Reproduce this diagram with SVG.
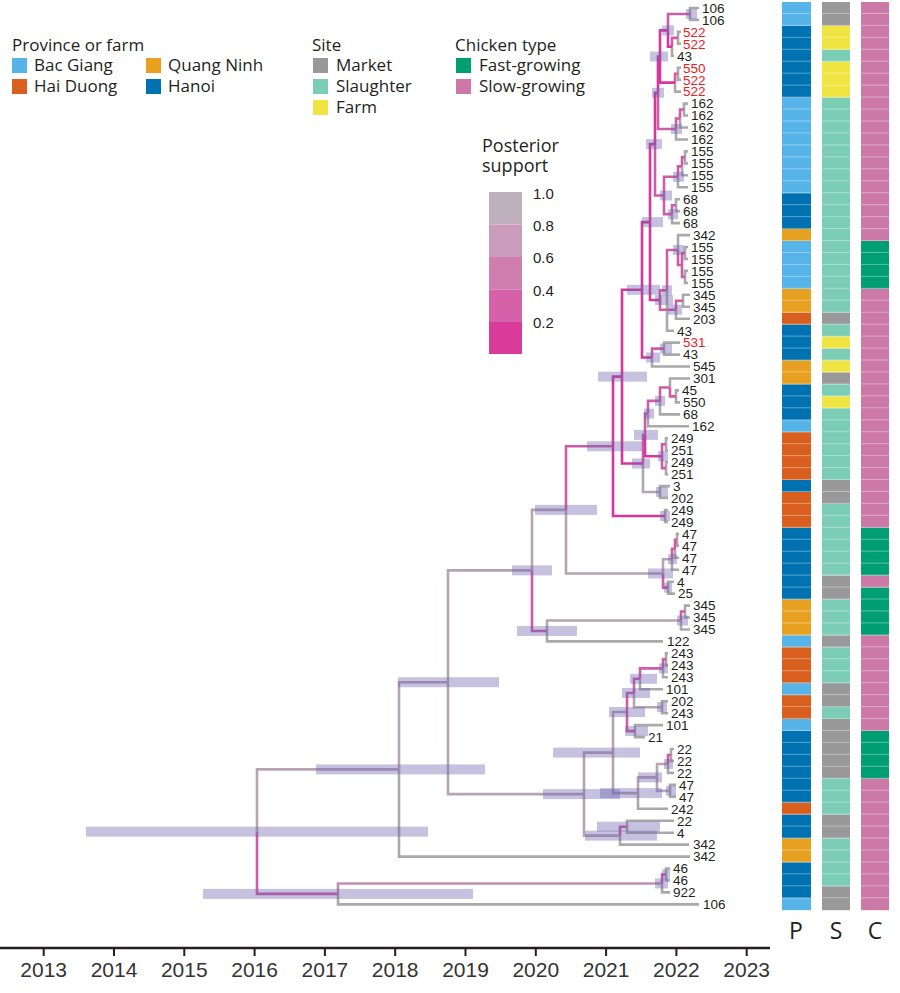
<svg xmlns="http://www.w3.org/2000/svg" width="900" height="993" viewBox="0 0 900 993">
<defs>
<style>
.t{fill:none;stroke:#A9A9A9;stroke-width:2.6}
.s1{fill:none;stroke:#B7A4B3;stroke-width:2.6}
.s8{fill:none;stroke:#C08FAF;stroke-width:2.6}
.s4{fill:none;stroke:#CF5CA6;stroke-width:2.6}
.s2{fill:none;stroke:#D8369A;stroke-width:2.6}
.hpd rect{fill:#6E65AE;fill-opacity:0.4}
.lbl{font-family:"Liberation Sans",Arial,sans-serif;font-size:13.5px;fill:#231F20}
.red{fill:#E8201F}
.leg{font-family:"Open Sans","Liberation Sans",sans-serif;font-size:17px;fill:#231F20}
.ax{font-family:"Liberation Sans",Arial,sans-serif;font-size:21px;fill:#333;text-anchor:middle}
.bg{fill:#56B4E9}.hd{fill:#D95F1E}.qn{fill:#E8A020}.hn{fill:#0072B2}
.mk{fill:#999999}.sl{fill:#7BCDB6}.fm{fill:#F0E442}
.fa{fill:#009E73}.sw{fill:#CC79A7}
</style>
<pattern id="sep" x="0" y="2" width="40" height="11.95" patternUnits="userSpaceOnUse">
<rect x="0" y="11.3" width="40" height="1.1" fill="#ffffff" fill-opacity="0.55"/>
</pattern>
</defs>
<rect width="900" height="993" fill="#ffffff"/>

<g id="connectors">
<path class="t" d="M690,13.95V8H699M690,13.95V19.9H699M678,37.85V31.9H681M678,37.85V43.8H681M672,46.8V55.8H674M678,73.7V67.7H681M678,73.7V79.7H681M675,82.65V91.6H681M684,109.55V103.6H688M684,109.55V115.5H688M680,118.5V127.5H688M676,129V139.5H688M685,157.4V151.4H688M685,157.4V163.4H688M682,166.35V175.3H688M678,176.8V187.3H688M676,205.2V199.2H680M676,205.2V211.2H680M672,214.15V223.1H680M678,250V235.1H690M685,253V247H688M685,253V259H688M685,276.9V270.9H688M685,276.9V282.9H688M667,290.35V330.7H674M683,300.8V294.8H690M683,300.8V306.8H690M676,309.75V318.7H690M664,348.6V342.6H680M664,348.6V354.6H680M652,357.55V366.5H690M676,396.4V390.4H679M676,396.4V402.4H680M670,387.45V378.5H690M660,400.9V414.4H680M648,413.6V426.3H689M666,444.25V438.3H668M666,444.25V450.2H668M666,468.15V462.2H668M666,468.15V474.1H668M660,492.05V486.1H670M660,492.05V498H668M665,515.95V510H668M665,515.95V521.9H668M677,539.85V533.9H679M677,539.85V545.8H679M675,548.8V557.8H679M672,559.25V569.7H679M668,587.65V581.7H674M668,587.65V593.6H675M685,611.55V605.6H690M685,611.55V617.5H690M681,620.5V629.5H690M547,630.95V641.4H663M666,659.4V653.4H668M666,659.4V665.4H668M663,668.35V677.3H668M640,678.8V689.3H663M662,707.2V701.2H668M662,707.2V713.2H668M635,731.1V725.1H663M635,731.1V737.1H645M671,755V749H674M671,755V761H674M668,763.95V772.9H674M670,790.85V784.9H676M670,790.85V796.8H676M638,793.1V808.8H668M627,826.7V820.7H674M627,826.7V832.7H674M620,835.65V844.6H689M399,769.4V856.6H690M666,874.5V868.5H670M666,874.5V880.5H670M662,883.45V892.4H670M338,893.9V904.4H699"/>
<path class="s1" d="M257,831.65V769.4H399M399,769.4V682.25H448M448,682.25V570.4H532M448,682.25V794.1H584M532,570.4V509.9H566M566,509.9V573.45H663M547,630.95V620.5H681M584,794.1V752.6H613M584,794.1V835.65H620M613,752.6V712.05H627M613,752.6V793.1H638M638,793.1V777.4H657M657,777.4V763.95H668M657,777.4V790.85H670M634,693V707.2H662M643,463.5V492.05H660M663,573.45V559.25H672"/>
<path class="s8" d="M338,893.9V883.45H662"/>
<path class="s4" d="M257,831.65V893.9H338M532,570.4V630.95H547M566,509.9V446.3H613M662,883.45V874.5H666M681,620.5V611.55H685M663,573.45V587.65H668M672,559.25V548.8H675M675,548.8V539.85H677M643,463.5V434.9H645M645,434.9V413.6H648M648,413.6V400.9H660M660,400.9V387.45H670M670,387.45V396.4H676M662,456.2V444.25H666M662,456.2V468.15H666M652,357.55V348.6H664M660,300.05V309.75H676M676,309.75V300.8H683M660,300.05V290.35H667M667,290.35V250H678M678,250V264.95H682M682,264.95V253H685M682,264.95V276.9H685M655,144.1V195.5H664M664,195.5V176.8H678M678,176.8V166.35H682M682,166.35V157.4H685M664,195.5V214.15H672M672,214.15V205.2H676M658,92.75V129H676M676,129V118.5H680M680,118.5V109.55H684M668,30.4V13.95H690M672,46.8V37.85H678M675,82.65V73.7H678M627,712.05V693H634M627,712.05V731.1H635M634,693V678.8H640M640,678.8V668.35H663M663,668.35V659.4H666M668,763.95V755H671M620,835.65V826.7H627"/>
<path class="s2" d="M613,446.3V376.65H622M613,446.3V515.95H665M622,376.65V289.8H642M622,376.65V463.5H643M645,434.9V456.2H662M642,289.8V222.1H650M642,289.8V357.55H652M650,222.1V144.1H655M650,222.1V300.05H660M655,144.1V92.75H658M658,92.75V56.5H660M660,56.5V30.4H668M660,56.5V82.65H675M668,30.4V46.8H672"/>
</g>

<g id="hpd" class="hpd">
<rect x="86" y="826.65" width="342" height="10"/>
<rect x="203" y="888.9" width="270" height="10"/>
<rect x="316" y="764.4" width="169" height="10"/>
<rect x="398" y="677.25" width="101" height="10"/>
<rect x="512" y="565.4" width="40" height="10"/>
<rect x="535" y="504.9" width="62" height="10"/>
<rect x="517" y="625.95" width="60" height="10"/>
<rect x="587" y="441.3" width="55" height="10"/>
<rect x="598" y="371.65" width="49" height="10"/>
<rect x="634" y="429.9" width="24" height="10"/>
<rect x="632" y="458.5" width="18" height="10"/>
<rect x="627" y="284.8" width="33" height="10"/>
<rect x="642" y="217.1" width="21" height="10"/>
<rect x="646" y="139.1" width="16" height="10"/>
<rect x="655" y="295.05" width="18" height="10"/>
<rect x="648" y="568.45" width="25" height="10"/>
<rect x="543" y="789.1" width="77" height="10"/>
<rect x="553" y="747.6" width="87" height="10"/>
<rect x="600" y="788.1" width="62" height="10"/>
<rect x="585" y="830.65" width="72" height="10"/>
<rect x="597" y="821.7" width="63" height="10"/>
<rect x="609" y="707.05" width="36" height="10"/>
<rect x="622" y="688" width="28" height="10"/>
<rect x="630" y="673.8" width="27" height="10"/>
<rect x="625" y="726.1" width="23" height="10"/>
<rect x="638" y="772.4" width="24" height="10"/>
<rect x="655" y="878.45" width="13" height="10"/>
<rect x="677" y="615.5" width="11" height="10"/>
<rect x="650" y="51.5" width="18" height="10"/>
<rect x="662" y="25.4" width="12" height="10"/>
<rect x="686" y="8.95" width="11" height="10"/>
<rect x="652" y="87.75" width="12" height="10"/>
<rect x="671" y="124" width="11" height="10"/>
<rect x="660" y="190.5" width="12" height="10"/>
<rect x="673" y="171.8" width="11" height="10"/>
<rect x="668" y="209.15" width="10" height="10"/>
<rect x="673" y="245" width="11" height="10"/>
<rect x="662" y="285.35" width="10" height="10"/>
<rect x="668" y="304.75" width="14" height="10"/>
<rect x="646" y="352.55" width="14" height="10"/>
<rect x="660" y="343.6" width="12" height="10"/>
<rect x="644" y="408.6" width="10" height="10"/>
<rect x="655" y="395.9" width="10" height="10"/>
<rect x="658" y="451.2" width="10" height="10"/>
<rect x="656" y="487.05" width="12" height="10"/>
<rect x="660" y="510.95" width="10" height="10"/>
<rect x="668" y="554.25" width="9" height="10"/>
<rect x="664" y="582.65" width="8" height="10"/>
<rect x="659" y="663.35" width="9" height="10"/>
<rect x="657" y="702.2" width="10" height="10"/>
<rect x="664" y="758.95" width="9" height="10"/>
<rect x="666" y="785.85" width="10" height="10"/>
<rect x="662" y="869.5" width="8" height="10"/>
</g>

<g id="tips" class="lbl">
<text x="702" y="12.8">106</text>
<text x="702" y="24.7">106</text>
<text x="683" y="36.7" class="lbl red">522</text>
<text x="683" y="48.6" class="lbl red">522</text>
<text x="677" y="60.6">43</text>
<text x="683" y="72.5" class="lbl red">550</text>
<text x="683" y="84.5" class="lbl red">522</text>
<text x="683" y="96.4" class="lbl red">522</text>
<text x="691" y="108.4">162</text>
<text x="691" y="120.3">162</text>
<text x="691" y="132.3">162</text>
<text x="691" y="144.3">162</text>
<text x="691" y="156.2">155</text>
<text x="691" y="168.2">155</text>
<text x="691" y="180.1">155</text>
<text x="691" y="192.1">155</text>
<text x="683" y="204">68</text>
<text x="683" y="216">68</text>
<text x="683" y="227.9">68</text>
<text x="693" y="239.9">342</text>
<text x="691" y="251.8">155</text>
<text x="691" y="263.8">155</text>
<text x="691" y="275.7">155</text>
<text x="691" y="287.7">155</text>
<text x="693" y="299.6">345</text>
<text x="693" y="311.6">345</text>
<text x="693" y="323.5">203</text>
<text x="677" y="335.5">43</text>
<text x="683" y="347.4" class="lbl red">531</text>
<text x="683" y="359.4">43</text>
<text x="693" y="371.3">545</text>
<text x="693" y="383.3">301</text>
<text x="682" y="395.2">45</text>
<text x="683" y="407.2">550</text>
<text x="683" y="419.2">68</text>
<text x="692" y="431.1">162</text>
<text x="671" y="443.1">249</text>
<text x="671" y="455">251</text>
<text x="671" y="467">249</text>
<text x="671" y="478.9">251</text>
<text x="673" y="490.9">3</text>
<text x="671" y="502.8">202</text>
<text x="671" y="514.8">249</text>
<text x="671" y="526.7">249</text>
<text x="682" y="538.7">47</text>
<text x="682" y="550.6">47</text>
<text x="682" y="562.6">47</text>
<text x="682" y="574.5">47</text>
<text x="677" y="586.5">4</text>
<text x="678" y="598.4">25</text>
<text x="693" y="610.4">345</text>
<text x="693" y="622.3">345</text>
<text x="693" y="634.3">345</text>
<text x="667" y="646.2">122</text>
<text x="671" y="658.2">243</text>
<text x="671" y="670.2">243</text>
<text x="671" y="682.1">243</text>
<text x="666" y="694.1">101</text>
<text x="671" y="706">202</text>
<text x="671" y="718">243</text>
<text x="666" y="729.9">101</text>
<text x="648" y="741.9">21</text>
<text x="677" y="753.8">22</text>
<text x="677" y="765.8">22</text>
<text x="677" y="777.7">22</text>
<text x="679" y="789.7">47</text>
<text x="679" y="801.6">47</text>
<text x="671" y="813.6">242</text>
<text x="677" y="825.5">22</text>
<text x="677" y="837.5">4</text>
<text x="693" y="849.4">342</text>
<text x="693" y="861.4">342</text>
<text x="673" y="873.3">46</text>
<text x="673" y="885.3">46</text>
<text x="673" y="897.2">922</text>
<text x="703" y="909.2">106</text>
</g>

<g id="col-P">
<rect class="bg" x="782" y="2" width="29" height="23.9"/>
<rect class="hn" x="782" y="25.9" width="29" height="71.7"/>
<rect class="bg" x="782" y="97.6" width="29" height="95.6"/>
<rect class="hn" x="782" y="193.2" width="29" height="35.85"/>
<rect class="qn" x="782" y="229.05" width="29" height="11.95"/>
<rect class="bg" x="782" y="241" width="29" height="47.8"/>
<rect class="qn" x="782" y="288.8" width="29" height="23.9"/>
<rect class="hd" x="782" y="312.7" width="29" height="11.95"/>
<rect class="hn" x="782" y="324.65" width="29" height="35.85"/>
<rect class="qn" x="782" y="360.5" width="29" height="23.9"/>
<rect class="hn" x="782" y="384.4" width="29" height="35.85"/>
<rect class="bg" x="782" y="420.25" width="29" height="11.95"/>
<rect class="hd" x="782" y="432.2" width="29" height="47.8"/>
<rect class="hn" x="782" y="480" width="29" height="11.95"/>
<rect class="hd" x="782" y="491.95" width="29" height="35.85"/>
<rect class="hn" x="782" y="527.8" width="29" height="71.7"/>
<rect class="qn" x="782" y="599.5" width="29" height="35.85"/>
<rect class="bg" x="782" y="635.35" width="29" height="11.95"/>
<rect class="hd" x="782" y="647.3" width="29" height="35.85"/>
<rect class="bg" x="782" y="683.15" width="29" height="11.95"/>
<rect class="hd" x="782" y="695.1" width="29" height="23.9"/>
<rect class="bg" x="782" y="719" width="29" height="11.95"/>
<rect class="hn" x="782" y="730.95" width="29" height="71.7"/>
<rect class="hd" x="782" y="802.65" width="29" height="11.95"/>
<rect class="hn" x="782" y="814.6" width="29" height="23.9"/>
<rect class="qn" x="782" y="838.5" width="29" height="23.9"/>
<rect class="hn" x="782" y="862.4" width="29" height="35.85"/>
<rect class="bg" x="782" y="898.25" width="29" height="11.95"/>
<rect x="782" y="2" width="29" height="907" fill="url(#sep)"/>
</g>

<g id="col-S">
<rect class="mk" x="822" y="2" width="28" height="23.9"/>
<rect class="fm" x="822" y="25.9" width="28" height="23.9"/>
<rect class="sl" x="822" y="49.8" width="28" height="11.95"/>
<rect class="fm" x="822" y="61.75" width="28" height="35.85"/>
<rect class="sl" x="822" y="97.6" width="28" height="215.1"/>
<rect class="mk" x="822" y="312.7" width="28" height="11.95"/>
<rect class="sl" x="822" y="324.65" width="28" height="11.95"/>
<rect class="fm" x="822" y="336.6" width="28" height="11.95"/>
<rect class="sl" x="822" y="348.55" width="28" height="11.95"/>
<rect class="fm" x="822" y="360.5" width="28" height="11.95"/>
<rect class="mk" x="822" y="372.45" width="28" height="11.95"/>
<rect class="sl" x="822" y="384.4" width="28" height="11.95"/>
<rect class="fm" x="822" y="396.35" width="28" height="11.95"/>
<rect class="sl" x="822" y="408.3" width="28" height="71.7"/>
<rect class="mk" x="822" y="480" width="28" height="23.9"/>
<rect class="sl" x="822" y="503.9" width="28" height="71.7"/>
<rect class="mk" x="822" y="575.6" width="28" height="23.9"/>
<rect class="sl" x="822" y="599.5" width="28" height="35.85"/>
<rect class="mk" x="822" y="635.35" width="28" height="11.95"/>
<rect class="sl" x="822" y="647.3" width="28" height="35.85"/>
<rect class="mk" x="822" y="683.15" width="28" height="23.9"/>
<rect class="sl" x="822" y="707.05" width="28" height="11.95"/>
<rect class="mk" x="822" y="719" width="28" height="59.75"/>
<rect class="sl" x="822" y="778.75" width="28" height="35.85"/>
<rect class="mk" x="822" y="814.6" width="28" height="23.9"/>
<rect class="sl" x="822" y="838.5" width="28" height="47.8"/>
<rect class="mk" x="822" y="886.3" width="28" height="23.9"/>
<rect x="822" y="2" width="28" height="907" fill="url(#sep)"/>
</g>

<g id="col-C">
<rect class="sw" x="861" y="2" width="28" height="239"/>
<rect class="fa" x="861" y="241" width="28" height="47.8"/>
<rect class="sw" x="861" y="288.8" width="28" height="239"/>
<rect class="fa" x="861" y="527.8" width="28" height="47.8"/>
<rect class="sw" x="861" y="575.6" width="28" height="11.95"/>
<rect class="fa" x="861" y="587.55" width="28" height="47.8"/>
<rect class="sw" x="861" y="635.35" width="28" height="95.6"/>
<rect class="fa" x="861" y="730.95" width="28" height="47.8"/>
<rect class="sw" x="861" y="778.75" width="28" height="131.45"/>
<rect x="861" y="2" width="28" height="907" fill="url(#sep)"/>
</g>

<g id="col-labels" font-family="'Open Sans','Liberation Sans',sans-serif" font-size="23" fill="#231F20" text-anchor="middle">
<text x="796" y="939">P</text>
<text x="836" y="939">S</text>
<text x="875" y="939">C</text>
</g>

<g id="legend-province" class="leg">
<text x="12" y="51">Province or farm</text>
<rect class="bg" x="12" y="58" width="15" height="15"/>
<text x="34" y="71">Bac Giang</text>
<rect class="hd" x="12" y="79" width="15" height="15"/>
<text x="34" y="92">Hai Duong</text>
<rect class="qn" x="146" y="58" width="15" height="15"/>
<text x="168" y="71">Quang Ninh</text>
<rect class="hn" x="146" y="79" width="15" height="15"/>
<text x="168" y="92">Hanoi</text>
</g>

<g id="legend-site" class="leg">
<text x="312" y="51">Site</text>
<rect class="mk" x="313" y="58" width="15" height="15"/>
<text x="336" y="71">Market</text>
<rect class="sl" x="313" y="79" width="15" height="15"/>
<text x="336" y="92">Slaughter</text>
<rect class="fm" x="313" y="100" width="15" height="15"/>
<text x="336" y="113">Farm</text>
</g>

<g id="legend-chicken" class="leg">
<text x="455" y="51">Chicken type</text>
<rect class="fa" x="456" y="58" width="15" height="15"/>
<text x="479" y="71">Fast-growing</text>
<rect class="sw" x="456" y="79" width="15" height="15"/>
<text x="479" y="92">Slow-growing</text>
</g>

<g id="legend-posterior">
<text x="482" y="152" font-family="'Open Sans','Liberation Sans',sans-serif" font-size="18" fill="#231F20">Posterior</text>
<text x="482" y="172" font-family="'Open Sans','Liberation Sans',sans-serif" font-size="18" fill="#231F20">support</text>
<rect x="489" y="192" width="33" height="32.5" fill="#BEB1BD"/>
<rect x="489" y="224.5" width="33" height="32.5" fill="#CA9CB9"/>
<rect x="489" y="257" width="33" height="32.5" fill="#D07DB0"/>
<rect x="489" y="289.5" width="33" height="32.5" fill="#D562A8"/>
<rect x="489" y="322" width="33" height="32" fill="#D93B9B"/>
<g font-family="'Liberation Sans',Arial,sans-serif" font-size="15" fill="#231F20">
<text x="533" y="198.5">1.0</text>
<text x="533" y="230.5">0.8</text>
<text x="533" y="263">0.6</text>
<text x="533" y="295.5">0.4</text>
<text x="533" y="327.5">0.2</text>
</g>
</g>

<g id="axis">
<path d="M0,948H770" stroke="#231F20" stroke-width="2.6" fill="none"/>
<path d="M43.7,948V956M114,948V956M184.3,948V956M254.6,948V956M324.9,948V956M395.2,948V956M465.5,948V956M535.8,948V956M606.1,948V956M676.4,948V956M746.7,948V956" stroke="#231F20" stroke-width="2" fill="none"/>
<g class="ax">
<text x="43.7" y="977">2013</text>
<text x="114" y="977">2014</text>
<text x="184.3" y="977">2015</text>
<text x="254.6" y="977">2016</text>
<text x="324.9" y="977">2017</text>
<text x="395.2" y="977">2018</text>
<text x="465.5" y="977">2019</text>
<text x="535.8" y="977">2020</text>
<text x="606.1" y="977">2021</text>
<text x="676.4" y="977">2022</text>
<text x="746.7" y="977">2023</text>
</g>
</g>
</svg>
